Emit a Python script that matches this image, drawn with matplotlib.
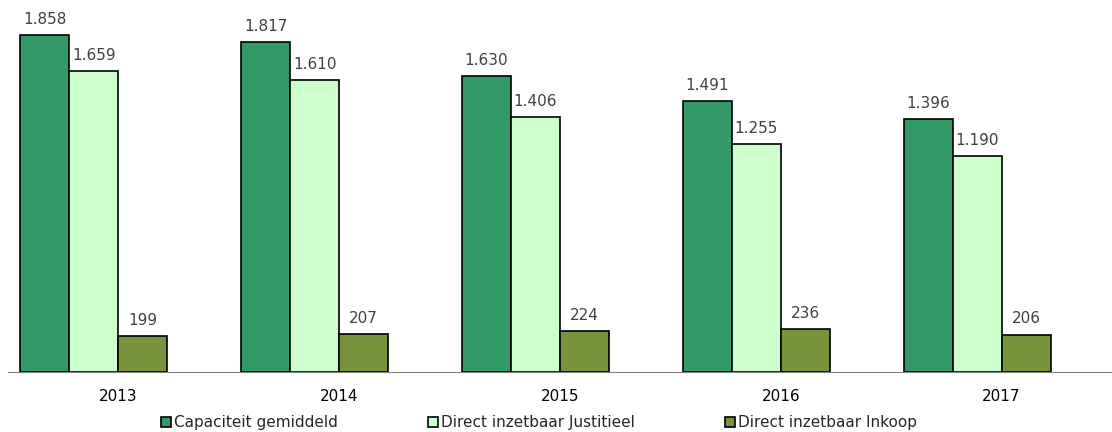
import matplotlib.pyplot as plt
import numpy as np

years = ['2013', '2014', '2015', '2016', '2017']
capaciteit = [1858, 1817, 1630, 1491, 1396]
justitieel = [1659, 1610, 1406, 1255, 1190]
inkoop = [199, 207, 224, 236, 206]

series = [
    ('Capaciteit gemiddeld', capaciteit, '#339966'),
    ('Direct inzetbaar Justitieel', justitieel, '#CCFFCC'),
    ('Direct inzetbaar Inkoop', inkoop, '#77933C'),
]

def fmt(v):
    # Dutch thousands separator
    return '{:,}'.format(v).replace(',', '.')

fig = plt.figure(figsize=(11.12, 4.32), dpi=100)
ax = fig.add_axes([8 / 1112, 60 / 432, 1104 / 1112, 372 / 432])

x = np.arange(len(years))
w = 0.222
offsets = [-1.5, -0.5, 0.5]  # 4th (empty) slot keeps the excel look

for (name, vals, col), off in zip(series, offsets):
    bars = ax.bar(x + off * w, vals, w, color=col, edgecolor='black',
                  linewidth=1.2, label=name)
    for b, v in zip(bars, vals):
        ax.text(b.get_x() + b.get_width() / 2, v + 45, fmt(v),
                ha='center', va='bottom', fontsize=11, color='#404040')

ax.set_xlim(-0.5, len(years) - 0.5)
ax.set_ylim(0, 2050)
ax.set_xticks(x)
ax.set_xticklabels(years, fontsize=11)
ax.tick_params(axis='x', length=0, pad=12)
ax.set_yticks([])
for s in ['top', 'right', 'left']:
    ax.spines[s].set_visible(False)
ax.spines['bottom'].set_color('#808080')

leg = ax.legend(loc='center', bbox_to_anchor=(0.481, -0.137), ncol=3, frameon=False,
                fontsize=11, handlelength=0.65, handleheight=0.65, handletextpad=0.2,
                columnspacing=5.9, borderaxespad=0)
for t in leg.get_texts():
    t.set_color('#262626')

fig.savefig('out.png', dpi=100)
